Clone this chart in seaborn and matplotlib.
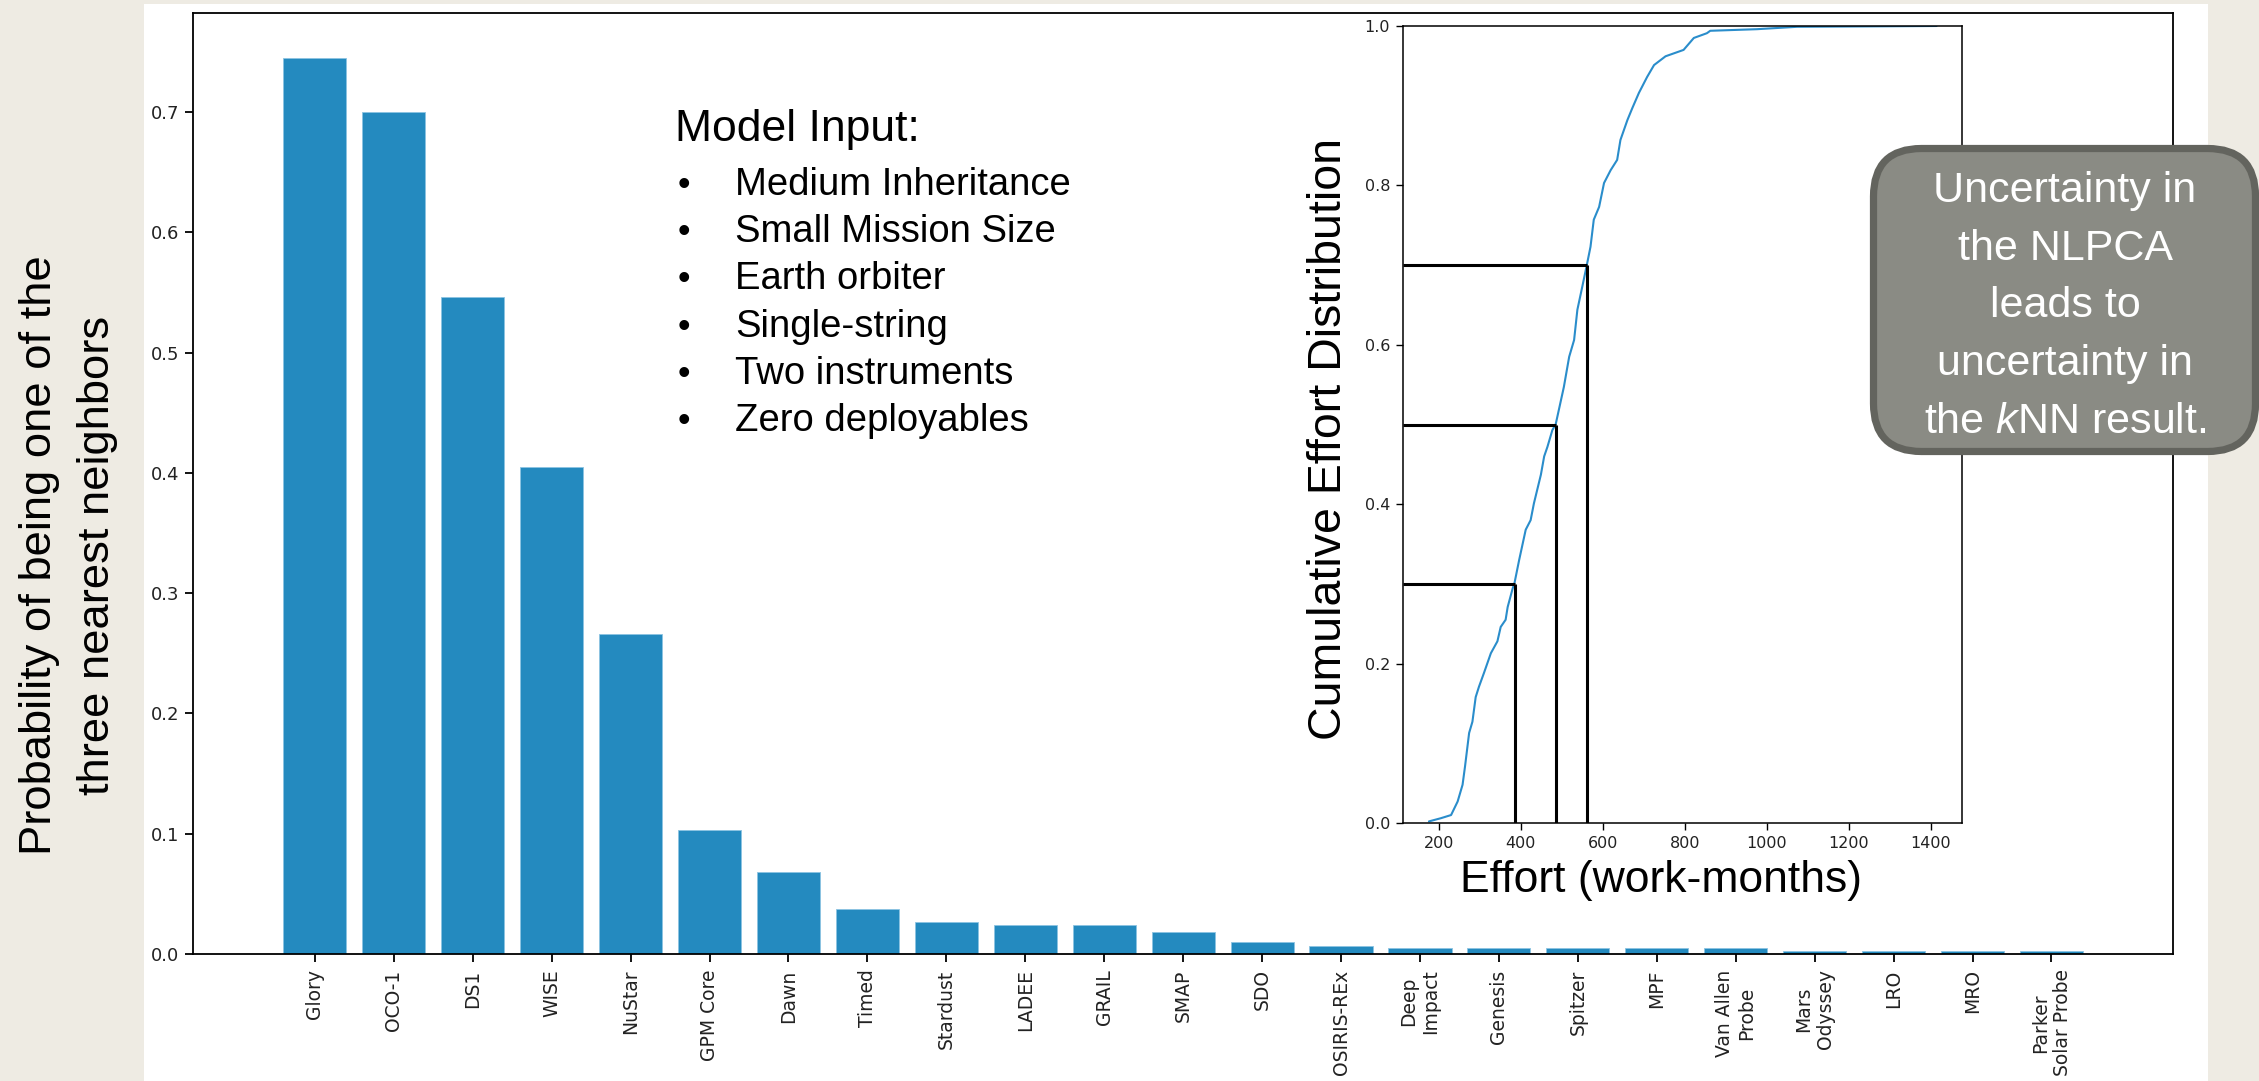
import matplotlib
matplotlib.use("Agg")
import matplotlib.pyplot as plt
import seaborn as sns
from matplotlib.patches import Rectangle, FancyBboxPatch
from matplotlib.transforms import IdentityTransform

# ---------------------------------------------------------------- data
missions = ["Glory", "OCO-1", "DS1", "WISE", "NuStar", "GPM Core", "Dawn",
            "Timed", "Stardust", "LADEE", "GRAIL", "SMAP", "SDO", "OSIRIS-REx",
            "Deep\nImpact", "Genesis", "Spitzer", "MPF", "Van Allen\nProbe",
            "Mars\nOdyssey", "LRO", "MRO", "Parker\nSolar Probe"]
neighbor_prob = [0.745, 0.700, 0.546, 0.405, 0.266, 0.103, 0.068, 0.037,
                 0.027, 0.024, 0.024, 0.018, 0.010, 0.007, 0.005, 0.005,
                 0.005, 0.005, 0.005, 0.0027, 0.0027, 0.0027, 0.0027]
prob_ticks = [0.0, 0.1, 0.2, 0.3, 0.4, 0.5, 0.6, 0.7]

# cumulative effort distribution (work-months vs. cumulative probability)
effort = [176, 205, 230, 246, 258, 264, 274, 282, 290, 298, 310, 327, 343,
          351, 363, 368, 380, 385, 396, 412, 424, 432, 449, 457, 465, 477,
          485, 505, 518, 530, 538, 550, 561, 570, 578, 591, 603, 619, 635,
          643, 660, 672, 688, 708, 725, 753, 797, 822, 854, 862, 976, 1074,
          1414]
cum_prob = [0.002, 0.006, 0.010, 0.027, 0.048, 0.071, 0.113, 0.127, 0.158,
            0.171, 0.188, 0.213, 0.228, 0.246, 0.255, 0.271, 0.294, 0.302,
            0.330, 0.368, 0.380, 0.401, 0.437, 0.460, 0.472, 0.493, 0.500,
            0.547, 0.585, 0.606, 0.644, 0.673, 0.700, 0.723, 0.757, 0.773,
            0.803, 0.819, 0.832, 0.857, 0.882, 0.897, 0.916, 0.936, 0.951,
            0.962, 0.970, 0.985, 0.991, 0.994, 0.996, 0.999, 1.000]
pct_levels = [0.3, 0.5, 0.7]
pct_effort = [385, 485, 562]
effort_ticks = [200, 400, 600, 800, 1000, 1200, 1400]
cdf_ticks = [0.0, 0.2, 0.4, 0.6, 0.8, 1.0]

model_title = "Model Input:"
model_inputs = ["Medium Inheritance", "Small Mission Size", "Earth orbiter",
                "Single-string", "Two instruments", "Zero deployables"]
callout_lines = ["Uncertainty in", "the NLPCA", "leads to",
                 "uncertainty in", r"the $\mathit{k}$NN result."]

# ---------------------------------------------------------------- style
W, H, DPI = 2259, 1081, 100
BEIGE = "#EEEBE3"
BAR = "#248ABF"
CURVE = "#2A8DCB"
BOX_FILL = "#8A8B84"
BOX_EDGE = "#63645E"
LABEL_FONT = "Liberation Sans"

sns.set_style("ticks")
plt.rcParams["font.family"] = ["DejaVu Sans"]
plt.rcParams["mathtext.fontset"] = "custom"
plt.rcParams["mathtext.rm"] = LABEL_FONT
plt.rcParams["mathtext.it"] = LABEL_FONT + ":italic"


def fx(x):
    return x / W


def fy(y):
    return 1 - y / H


fig = plt.figure(figsize=(W / DPI, H / DPI), dpi=DPI, facecolor=BEIGE)
fig.add_artist(Rectangle((fx(144), 0), fx(2208) - fx(144), fy(4),
                         transform=fig.transFigure, facecolor="white",
                         edgecolor="none", zorder=-10))

# ---------------------------------------------------------------- bar chart
ax = fig.add_axes([fx(193.3), fy(954), fx(2173) - fx(193.3), fy(13.3) - fy(954)])
ax.set_facecolor("white")
sns.barplot(x=missions, y=neighbor_prob, color=BAR, saturation=1, width=0.8,
            edgecolor="#8CC3E2", linewidth=0.6, ax=ax)
ax.set_xlim(-1.54, 23.54)
ax.set_ylim(0, 0.782)
ax.set_yticks(prob_ticks)
ax.set_yticklabels([f"{v:.1f}" for v in prob_ticks])
ax.tick_params(axis="x", rotation=90, labelsize=13.5, length=6, width=1.3,
               pad=5, colors="black", labelcolor="#222222")
ax.tick_params(axis="y", labelsize=13, length=6, width=1.3, pad=4,
               colors="black", labelcolor="#222222")
ax.set_xlabel("")
ax.set_ylabel("")
for s in ax.spines.values():
    s.set_visible(True)
    s.set_color("black")
    s.set_linewidth(1.3)

# ---------------------------------------------------------------- inset CDF
ax2 = fig.add_axes([fx(1402.7), fy(823), fx(1962) - fx(1402.7), fy(26) - fy(823)])
ax2.set_facecolor("white")
sns.lineplot(x=effort, y=cum_prob, ax=ax2, color=CURVE, linewidth=1.5,
             sort=False, estimator=None)
ax2.hlines(pct_levels, xmin=112, xmax=pct_effort, colors="black", linewidth=2.2)
ax2.vlines(pct_effort, ymin=0, ymax=pct_levels, colors="black", linewidth=2.2)
ax2.set_xlim(112, 1476)
ax2.set_ylim(0, 1.0)
ax2.set_xticks(effort_ticks)
ax2.set_xticklabels([str(v) for v in effort_ticks])
ax2.set_yticks(cdf_ticks)
ax2.set_yticklabels([f"{v:.1f}" for v in cdf_ticks])
ax2.tick_params(labelsize=11.5, length=5, width=1.0, pad=4,
                colors="black", labelcolor="#222222")
ax2.set_xlabel("")
ax2.set_ylabel("")
for s in ax2.spines.values():
    s.set_visible(True)
    s.set_color("black")
    s.set_linewidth(1.1)

# ---------------------------------------------------------------- labels
fig.text(fx(51), fy(555), "Probability of being one of the", rotation=90,
         rotation_mode="anchor", ha="center", va="baseline", fontsize=32.7,
         family=LABEL_FONT, color="black")
fig.text(fx(109), fy(555), "three nearest neighbors", rotation=90,
         rotation_mode="anchor", ha="center", va="baseline", fontsize=32.7,
         family=LABEL_FONT, color="black")
fig.text(fx(1341), fy(439), "Cumulative Effort Distribution", rotation=90,
         rotation_mode="anchor", ha="center", va="baseline", fontsize=33.5,
         family=LABEL_FONT, color="black")
fig.text(fx(1661), fy(892), "Effort (work-months)", ha="center",
         va="baseline", fontsize=32, family=LABEL_FONT, color="black")

# model input list
fig.text(fx(675), fy(141), model_title, ha="left", va="baseline",
         fontsize=32, family=LABEL_FONT, color="black")
item_baselines = [195, 242.2, 289.4, 336.6, 383.8, 431]
for item, yb in zip(model_inputs, item_baselines):
    fig.text(fx(684), fy(yb), "\u2022", ha="center", va="baseline",
             fontsize=26, family=LABEL_FONT, color="black")
    fig.text(fx(735), fy(yb), item, ha="left", va="baseline",
             fontsize=27.5, family=LABEL_FONT, color="black")

# callout box
fig.add_artist(FancyBboxPatch((1873.5, H - 451.5), 382, 303,
                              boxstyle="round,pad=0,rounding_size=48",
                              transform=IdentityTransform(),
                              facecolor=BOX_FILL, edgecolor=BOX_EDGE,
                              linewidth=5.2, zorder=5))
callout_baselines = [202, 260, 317, 375, 433]
for line, yb in zip(callout_lines, callout_baselines):
    fig.text(fx(2065), fy(yb), line, ha="center", va="baseline",
             fontsize=31, family=LABEL_FONT, color="white", zorder=6)

fig.savefig("out.png", dpi=DPI, facecolor=BEIGE)
